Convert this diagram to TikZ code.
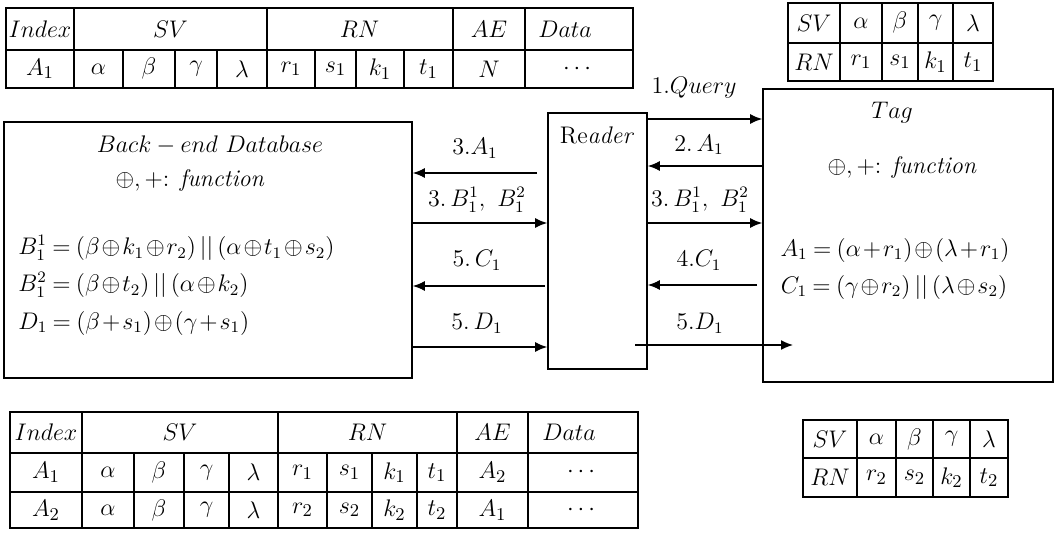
\documentclass[tikz,border=0pt]{standalone}
\usepackage{amsmath}
\usetikzlibrary{arrows.meta}
\newcommand{\tightops}{\medmuskip=1.5mu\relax\thickmuskip=4mu\relax}
\begin{document}
\begin{tikzpicture}[x=0.5pt,y=-0.5pt,
  every node/.style={font=\fontsize{12}{14}\selectfont, inner sep=0pt},
  cell/.style={font=\fontsize{12.5}{14}\selectfont},
  box/.style={draw, line width=0.8pt, rectangle, inner sep=0pt},
  grid/.style={line width=0.7pt},
  msg/.style={line width=0.75pt, -{Latex[length=6pt,width=5pt]}}
]
\useasboundingbox (0,0) rectangle (1055,535);

% ---------- main boxes ----------
\node[box, minimum width=204pt, minimum height=128pt] (db) at (208,250) {};
\node[box, minimum width=49.5pt, minimum height=128pt] (reader) at (597.5,241) {};
\node[box, minimum width=145pt, minimum height=146.5pt] (tag) at (908,235.5) {};

% back-end database contents
\node (dbt) at (210,145) {$Back-end\ Database$};
\node (dbf) at (190,180) {$\oplus, +$: \textit{function}};
\node[anchor=west] (dbe1) at (18,248) {\tightops$B_1^1=(\beta\oplus k_1\oplus r_2)\,||\,(\alpha\oplus t_1\oplus s_2)$};
\node[anchor=west] (dbe2) at (18,285) {\tightops$B_1^2=(\beta\oplus t_2)\,||\,(\alpha\oplus k_2)$};
\node[anchor=west] (dbe3) at (18,323) {\tightops$D_1=(\beta+s_1)\oplus(\gamma+s_1)$};

% reader
\node (rdt) at (597,135) {Re\textit{ader}};

% tag contents
\node (tgt) at (892,113) {$Tag$};
\node (tgf) at (902,168) {$\oplus, +$: \textit{function}};
\node (tge1) at (895,250) {\tightops$A_1=(\alpha+r_1)\oplus(\lambda+r_1)$};
\node (tge2) at (894,287) {\tightops$C_1=(\gamma\oplus r_2)\,||\,(\lambda\oplus s_2)$};

% ---------- messages ----------
\coordinate (yq) at (0,119);
\coordinate (ya) at (0,166);
\coordinate (yb) at (0,223);
\coordinate (yd) at (0,347);
\coordinate (a3s) at (537,173);
\coordinate (c4s) at (757,285);
\coordinate (c5s) at (545,286);
\coordinate (d5s) at (635,345);
\coordinate (d5e) at (793,345);

% reader <-> tag
\draw[msg] (reader.east |- yq) -- (tag.west |- yq);
\draw[msg] (tag.west |- ya) -- (reader.east |- ya);
\draw[msg] (reader.east |- yb) -- (tag.west |- yb);
\draw[msg] (c4s) -- (reader.east |- c4s);
\draw[msg] (d5s) -- (d5e);
\node (l1) at (694,88) {1.$Query$};
\node (l2) at (699,145) {2.\,$A_1$};
\node (l3r) at (700,200) {3.\,$B_1^1,\ B_1^2$};
\node (l4) at (699,260) {4.$C_1$};
\node (l5r) at (700,323) {5.$D_1$};

% reader <-> database
\draw[msg] (a3s) -- (db.east |- a3s);
\draw[msg] (db.east |- yb) -- (reader.west |- yb);
\draw[msg] (c5s) -- (db.east |- c5s);
\draw[msg] (db.east |- yd) -- (reader.west |- yd);
\node (l3a) at (475,148) {3.$A_1$};
\node (l3l) at (477,200) {3.\,$B_1^1,\ B_1^2$};
\node (l5c) at (477,260) {5.\,$C_1$};
\node (l5d) at (477,323) {5.\,$D_1$};

% ---------- database table (one entry) ----------
\draw[grid] (6,8) rectangle (633,88);
\draw[grid] (6,50) -- (633,50);
\foreach \x in {74,267,453,525} \draw[grid] (\x,8) -- (\x,88);
\foreach \x in {123,175,217,315,356,404} \draw[grid] (\x,50) -- (\x,88);
\foreach \x/\t [count=\i] in {40/$Index$,170.5/$SV$,359.5/$RN$,489/$AE$,565/$Data$}
  \node[cell] (ta-h\i) at (\x,29) {\t};
\foreach \x/\t [count=\i] in {40/$A_1$,98.5/$\alpha$,149/$\beta$,196/$\gamma$,242/$\lambda$,
    291/$r_1$,335.5/$s_1$,380/$k_1$,428.5/$t_1$,489/$N$,579/$\cdots$}
  \node[cell] (ta-a\i) at (\x,69) {\t};

% ---------- tag table (before update) ----------
\draw[grid] (788,3) rectangle (993,81);
\draw[grid] (788,43) -- (993,43);
\foreach \x in {840,882,918,953} \draw[grid] (\x,3) -- (\x,81);
\foreach \x/\t [count=\i] in {814/$SV$,861/$\alpha$,900/$\beta$,935.5/$\gamma$,973/$\lambda$}
  \node[cell] (tb-s\i) at (\x,23) {\t};
\foreach \x/\t [count=\i] in {814/$RN$,861/$r_1$,900/$s_1$,935.5/$k_1$,973/$t_1$}
  \node[cell] (tb-r\i) at (\x,62) {\t};

% ---------- database table (two entries) ----------
\draw[grid] (10,412) rectangle (638,528);
\draw[grid] (10,453) -- (638,453);
\draw[grid] (10,492) -- (638,492);
\foreach \x in {82,278,457,528} \draw[grid] (\x,412) -- (\x,528);
\foreach \x in {134,184,229,327,372,417} \draw[grid] (\x,453) -- (\x,528);
\foreach \x/\t [count=\i] in {46/$Index$,180/$SV$,367.5/$RN$,492.5/$AE$,569/$Data$}
  \node[cell] (tc-h\i) at (\x,432.5) {\t};
\foreach \x/\t [count=\i] in {46/$A_1$,108/$\alpha$,159/$\beta$,206.5/$\gamma$,253.5/$\lambda$,
    302.5/$r_1$,349.5/$s_1$,394.5/$k_1$,437/$t_1$,492.5/$A_2$,583/$\cdots$}
  \node[cell] (tc-a\i) at (\x,472.5) {\t};
\foreach \x/\t [count=\i] in {46/$A_2$,108/$\alpha$,159/$\beta$,206.5/$\gamma$,253.5/$\lambda$,
    302.5/$r_2$,349.5/$s_2$,394.5/$k_2$,437/$t_2$,492.5/$A_1$,583/$\cdots$}
  \node[cell] (tc-b\i) at (\x,510) {\t};

% ---------- tag table (after update) ----------
\draw[grid] (803,420) rectangle (1008,497);
\draw[grid] (803,458) -- (1008,458);
\foreach \x in {857,896,933,970} \draw[grid] (\x,420) -- (\x,497);
\foreach \x/\t [count=\i] in {830/$SV$,876.5/$\alpha$,914.5/$\beta$,951.5/$\gamma$,989/$\lambda$}
  \node[cell] (td-s\i) at (\x,439) {\t};
\foreach \x/\t [count=\i] in {830/$RN$,876.5/$r_2$,914.5/$s_2$,951.5/$k_2$,989/$t_2$}
  \node[cell] (td-r\i) at (\x,477.5) {\t};
\end{tikzpicture}
\end{document}
